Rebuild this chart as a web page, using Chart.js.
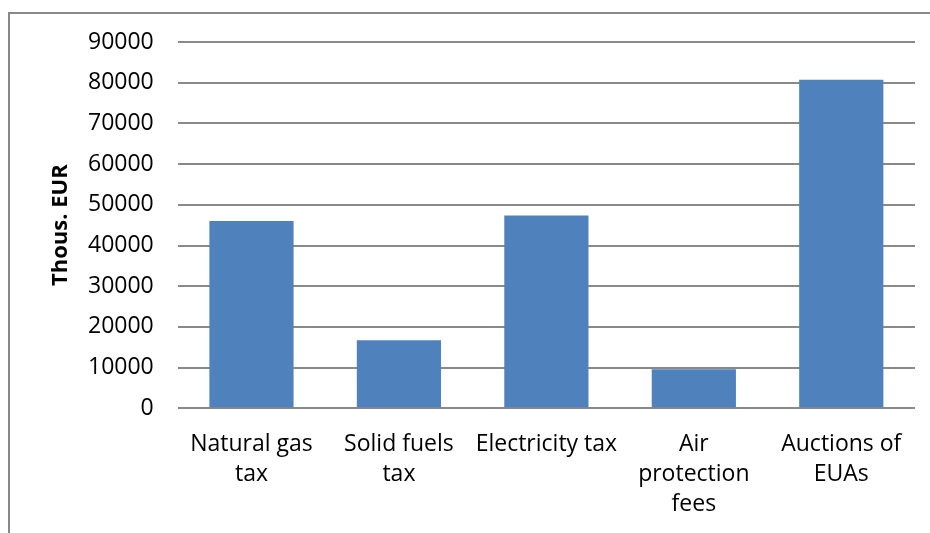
<!DOCTYPE html>
<html>
<head>
<meta charset="utf-8">
<script src="https://cdn.jsdelivr.net/npm/chart.js@4.4.1/dist/chart.umd.min.js"></script>
<style>
  html, body { margin: 0; padding: 0; background: #ffffff; }
  #wrap { width: 930px; height: 533px; position: relative; }
</style>
</head>
<body>
<div id="wrap"><canvas id="myChart" width="930" height="533"></canvas></div>
<script>
/*
 * DATA
 */
	var categories = [
		["Natural gas", "tax"],
		["Solid fuels", "tax"],
		["Electricity tax"],
		["Air", "protection", "fees"],
		["Auctions of", "EUAs"]
	];
	var revenues = [46000, 16700, 47400, 9600, 80700];
	var yMax = 90000;
	var yStep = 10000;
	var yTitle = "Thous. EUR";

/*
 * FRAME - grey border round the chart
 */
	var framePlugin = {
		id: 'frame',
		beforeDraw: function(chart) {
			var ctx = chart.ctx;
			ctx.save();
			ctx.fillStyle = '#ffffff';
			ctx.fillRect(0, 0, chart.width, chart.height);
			ctx.strokeStyle = '#898989';
			ctx.lineWidth = 2;
			ctx.strokeRect(9, 13, chart.width + 20, chart.height + 20);
			ctx.restore();
		}
	};

	var myChart = new Chart(document.getElementById('myChart'), {
		type: 'bar',
		data: {
			labels: categories,
			datasets: [{
				data: revenues,
				backgroundColor: '#4F81BD',
				borderWidth: 0,
				categoryPercentage: 1,
				barPercentage: 0.571
			}]
		},
		options: {
			responsive: false,
			animation: false,
			devicePixelRatio: 1,
			layout: { padding: { top: 42, right: 15, bottom: -7, left: 50 } },
			plugins: {
				legend: { display: false },
				tooltip: { enabled: false }
			},
			scales: {
				x: {
					grid: { display: false, drawTicks: false },
					border: { display: false },
					ticks: {
						color: '#000000',
						padding: 21,
						maxRotation: 0,
						autoSkip: false,
						font: { family: '"Open Sans"', size: 23, lineHeight: 1.3 }
					}
				},
				y: {
					min: 0,
					max: yMax,
					grid: { color: '#898989', lineWidth: 2, drawTicks: false },
					border: { display: false },
					title: {
						display: true,
						text: yTitle,
						color: '#000000',
						padding: { top: 0, bottom: -8 },
						font: { family: '"Open Sans"', size: 22, weight: 'bold', lineHeight: 1 }
					},
					ticks: {
						color: '#000000',
						padding: 24,
						stepSize: yStep,
						autoSkip: false,
						callback: function(v) { return String(v); },
						font: { family: '"Open Sans"', size: 23 }
					}
				}
			}
		},
		plugins: [framePlugin]
	});
</script>
</body>
</html>
